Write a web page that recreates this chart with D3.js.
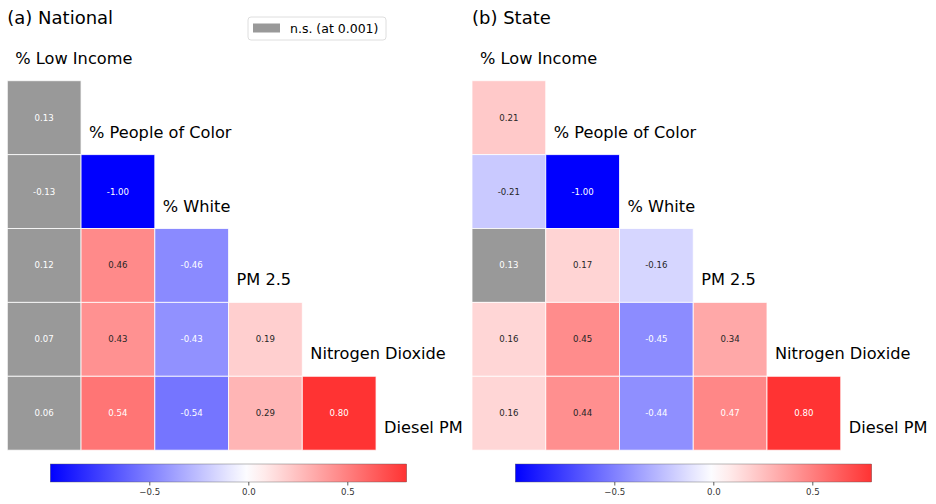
<!DOCTYPE html>
<html>
<head>
<meta charset="utf-8">
<script src="https://cdn.jsdelivr.net/npm/d3@7"></script>
<style>
  body { margin: 0; background: #fff; }
  svg { display: block; font-family: 'DejaVu Sans', sans-serif; }
</style>
</head>
<body>
<svg id="chart" width="936" height="504"></svg>
<script>
// variables along the diagonal
const variables = ['% Low Income', '% People of Color', '% White', 'PM 2.5', 'Nitrogen Dioxide', 'Diesel PM'];

// lower triangle, rows = variables[1..5], cols = variables[0..4]
const nationalValues = [
  [0.13],
  [-0.13, -1.00],
  [0.12, 0.46, -0.46],
  [0.07, 0.43, -0.43, 0.19],
  [0.06, 0.54, -0.54, 0.29, 0.80]
];
const nationalNS = [
  [true],
  [true, false],
  [true, false, false],
  [true, false, false, false],
  [true, false, false, false, false]
];

const stateValues = [
  [0.21],
  [-0.21, -1.00],
  [0.13, 0.17, -0.16],
  [0.16, 0.45, -0.45, 0.34],
  [0.16, 0.44, -0.44, 0.47, 0.80]
];
const stateNS = [
  [false],
  [false, false],
  [true, false, false],
  [false, false, false, false],
  [false, false, false, false, false]
];

const cbarTicks = [-0.5, 0.0, 0.5];
const cbarDomain = [-1, 0.8];
const legendLabel = 'n.s. (at 0.001)';

const NS_GRAY = '#999999';

// bwr colormap centered at 0, range -1..1
function bwr(v) {
  const t = Math.max(-1, Math.min(1, v));
  let r, g, b;
  if (t < 0) { r = 1 + t; g = 1 + t; b = 1; }
  else { r = 1; g = 1 - t; b = 1 - t; }
  return d3.rgb(r * 255, g * 255, b * 255);
}

function luminance(c) {
  const f = x => { x /= 255; return x <= 0.03928 ? x / 12.92 : Math.pow((x + 0.055) / 1.055, 2.4); };
  return 0.2126 * f(c.r) + 0.7152 * f(c.g) + 0.0722 * f(c.b);
}

const svg = d3.select('#chart');

function drawPanel(opts) {
  const { left, title, values, ns, cbarLeft, cbarRight } = opts;
  const top = 80.7, cw = 73.75, ch = 73.9;
  const n = values.length;

  const x = d3.scaleBand().domain(d3.range(n)).range([left, left + n * cw]);
  const y = d3.scaleBand().domain(d3.range(n)).range([top, top + n * ch]);

  const g = svg.append('g');

  g.append('text')
    .attr('x', left).attr('y', 24)
    .style('font-size', '18px').style('fill', '#000')
    .text(title);

  const cells = [];
  values.forEach((row, i) => row.forEach((v, j) => cells.push({ i, j, v, ns: ns[i][j] })));

  const cg = g.selectAll('g.cell').data(cells).enter().append('g');
  cg.append('rect')
    .attr('x', d => x(d.j)).attr('y', d => y(d.i))
    .attr('width', x.bandwidth()).attr('height', y.bandwidth())
    .style('fill', d => d.ns ? NS_GRAY : bwr(d.v).formatHex())
    .style('stroke', 'rgba(255,255,255,0.8)').style('stroke-width', 1);
  cg.append('text')
    .attr('x', d => x(d.j) + x.bandwidth() / 2)
    .attr('y', d => y(d.i) + y.bandwidth() / 2)
    .attr('text-anchor', 'middle').attr('dy', '0.35em')
    .style('font-size', '8.6px')
    .style('fill', d => {
      const c = d.ns ? d3.rgb(NS_GRAY) : bwr(d.v);
      return luminance(c) > 0.408 ? '#262626' : '#ffffff';
    })
    .text(d => d.v.toFixed(2));

  // diagonal labels
  g.selectAll('text.lab').data(variables).enter().append('text')
    .attr('x', (d, k) => left + k * cw + 8)
    .attr('y', (d, k) => top + (k - 1) * ch + ch / 2 + 20)
    .style('font-size', '16.2px').style('fill', '#000')
    .text(d => d);

  // colorbar
  const cx = d3.scaleLinear().domain(cbarDomain).range([cbarLeft, cbarRight]);
  const cbTop = 464, cbH = 18;
  const gradId = 'grad' + Math.round(left);
  const grad = svg.append('defs').append('linearGradient').attr('id', gradId)
    .attr('x1', '0%').attr('x2', '100%');
  d3.range(0, 1.0001, 0.05).forEach(t => {
    const v = cbarDomain[0] + t * (cbarDomain[1] - cbarDomain[0]);
    grad.append('stop').attr('offset', (t * 100) + '%').attr('stop-color', bwr(v).formatHex());
  });
  g.append('rect')
    .attr('x', cx(cbarDomain[0])).attr('y', cbTop)
    .attr('width', cx(cbarDomain[1]) - cx(cbarDomain[0])).attr('height', cbH)
    .style('fill', `url(#${gradId})`)
    .style('stroke', '#555').style('stroke-width', 0.4);

  const ax = d3.axisBottom(cx).tickValues(cbarTicks).tickSize(3.5).tickPadding(3)
    .tickFormat(d => d3.format('.1f')(d).replace('-', '\u2212'));
  const axg = g.append('g').attr('transform', `translate(0,${cbTop + cbH})`).call(ax);
  axg.select('.domain').remove();
  axg.selectAll('.tick line').style('stroke', '#333').style('stroke-width', 0.8);
  axg.selectAll('.tick text').style('font-size', '8.6px').style('fill', '#333')
    .style('font-family', "'DejaVu Sans', sans-serif");
}

drawPanel({ left: 7.3, title: '(a) National', values: nationalValues, ns: nationalNS, cbarLeft: 50.3, cbarRight: 406.7 });
drawPanel({ left: 472, title: '(b) State', values: stateValues, ns: stateNS, cbarLeft: 515.3, cbarRight: 871.7 });

// legend
const lg = svg.append('g');
lg.append('rect')
  .attr('x', 248).attr('y', 17).attr('width', 138).attr('height', 23)
  .attr('rx', 3)
  .style('fill', '#fff').style('stroke', '#d6d6d6').style('stroke-width', 0.8);
lg.append('rect')
  .attr('x', 253).attr('y', 23.5).attr('width', 27).attr('height', 9)
  .style('fill', NS_GRAY);
lg.append('text')
  .attr('x', 290).attr('y', 28.5).attr('dy', '0.35em')
  .style('font-size', '12.5px').style('fill', '#000')
  .text(legendLabel);
</script>
</body>
</html>
